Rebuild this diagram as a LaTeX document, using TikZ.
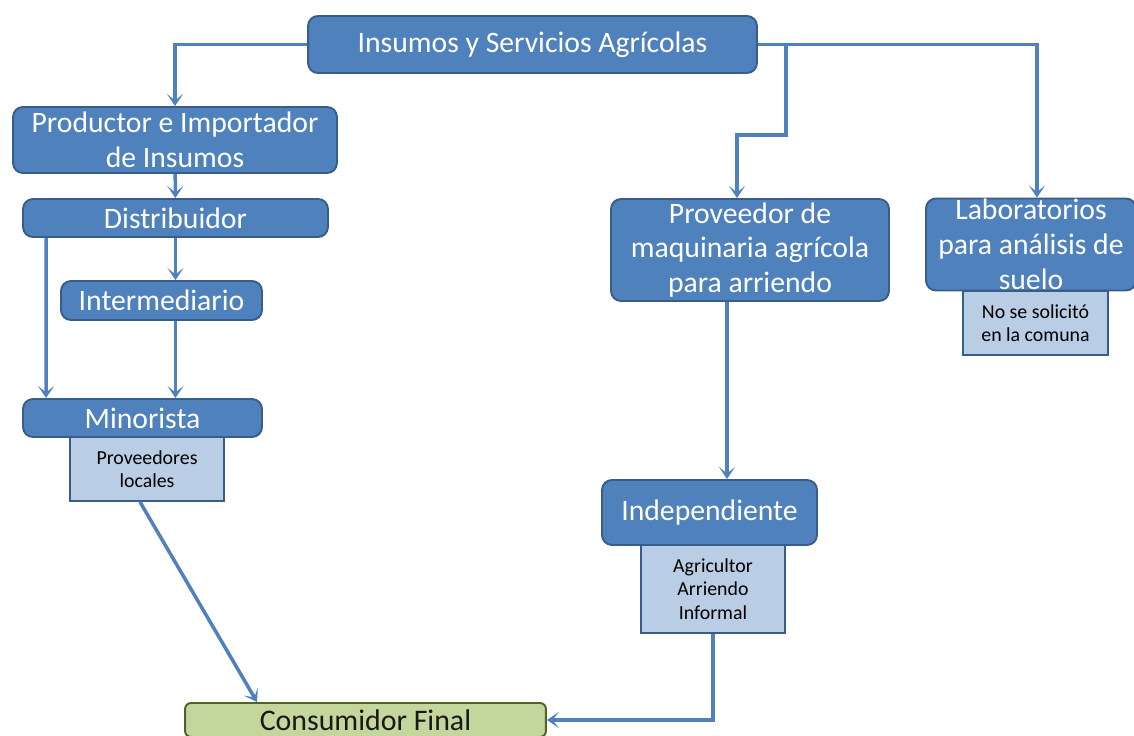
\documentclass[tikz,border=0pt]{standalone}
\usepackage{fontspec}
\setmainfont{Carlito}
\usetikzlibrary{
    positioning,
    arrows.meta
}
\definecolor{azul}{RGB}{79,129,189}
\definecolor{azulborde}{RGB}{56,93,138}
\definecolor{celeste}{RGB}{185,205,229}
\definecolor{verde}{RGB}{195,214,155}
\definecolor{verdeborde}{RGB}{79,98,40}
\tikzset{
    >={Stealth[length=2.4mm,width=3.2mm,inset=1.3mm]},
    caja/.style 2 args={
        draw=azulborde,
        fill=azul,
        line width=1.1pt,
        rounded corners=2mm,
        text=white,
        align=center,
        inner sep=0pt,
        minimum width=#1*0.2mm,
        minimum height=#2*0.2mm,
        font=\fontsize{16.9}{19.8}\selectfont
    },
    nota/.style 2 args={
        draw=azulborde,
        fill=celeste,
        line width=1.1pt,
        text=black,
        align=center,
        inner sep=0pt,
        minimum width=#1*0.2mm,
        minimum height=#2*0.2mm,
        font=\fontsize{11.3}{13.4}\selectfont
    },
    final/.style 2 args={
        draw=verdeborde,
        fill=verde,
        line width=1.1pt,
        rounded corners=1.2mm,
        text=black!90,
        align=center,
        inner sep=0pt,
        minimum width=#1*0.2mm,
        minimum height=#2*0.2mm,
        font=\fontsize{17}{19.8}\selectfont
    },
    flecha/.style={
        ->,
        azul,
        line width=2pt
    }
}

\begin{document}
\begin{tikzpicture}[
    x=0.02cm,
    y=-0.02cm
]
    \path[use as bounding box, clip] (0,0) rectangle (1134,736);

    % Notas
    \node[nota={154}{64}] (locales)    at (147,469)    {Proveedores\\locales};
    \node[nota={145}{64}] (nosolicito) at (1035.5,323) {No se solicitó\\en la comuna};
    \node[nota={144}{88}] (agricultor) at (713,589)    {Agricultor\\Arriendo\\Informal};

    % Cajas
    \node[caja={449}{57}]  (insumos)       at (532.5,44.5)  {Insumos y Servicios Agrícolas};
    \node[caja={324}{66}]  (productor)     at (175,140)     {Productor e Importador\\de Insumos};
    \node[caja={305}{38}]  (distribuidor)  at (175.5,218)   {Distribuidor};
    \node[caja={201}{39}]  (intermediario) at (161.5,300.5) {Intermediario};
    \node[caja={239}{38}]  (minorista)     at (142.5,418)   {Minorista};
    \node[caja={278}{102}] (maquinaria)    at (750,250)     {Proveedor de\\maquinaria agrícola\\para arriendo};
    \node[caja={210}{92}]  (laboratorios)  at (1031,244.5)  {Laboratorios\\para análisis de\\suelo};
    \node[caja={215}{65}]  (independiente) at (709.5,512.5) {Independiente};

    % Consumidor
    \node[final={361}{34}] (consumidor) at (365.5,720) {Consumidor Final};

    % Conexiones
    \coordinate (rama) at (786,44.5);
    \coordinate (codo) at (737,135);

    \draw[flecha] (insumos.west) -| (productor.north);
    \draw[flecha] (insumos.east) -| ([xshift=1.2mm]laboratorios.north);
    \draw[flecha] (rama) |- (codo) -- (codo |- maquinaria.north);

    \path[flecha]
        (productor) edge (distribuidor)
        (distribuidor.south) edge (distribuidor.south |- intermediario.north)
        ([xshift=4.8mm]distribuidor.south west) edge ([xshift=4.8mm]minorista.north west)
        (distribuidor.south |- intermediario.south) edge (distribuidor.south |- minorista.north)
        ([xshift=-4.6mm]maquinaria.south) edge ([xshift=-4.6mm]maquinaria.south |- independiente.north)
        ([xshift=-1.4mm]locales.south) edge ([xshift=-21.7mm]consumidor.north);

    \draw[flecha] (agricultor.south) |- (consumidor.east);

\end{tikzpicture}
\end{document}
